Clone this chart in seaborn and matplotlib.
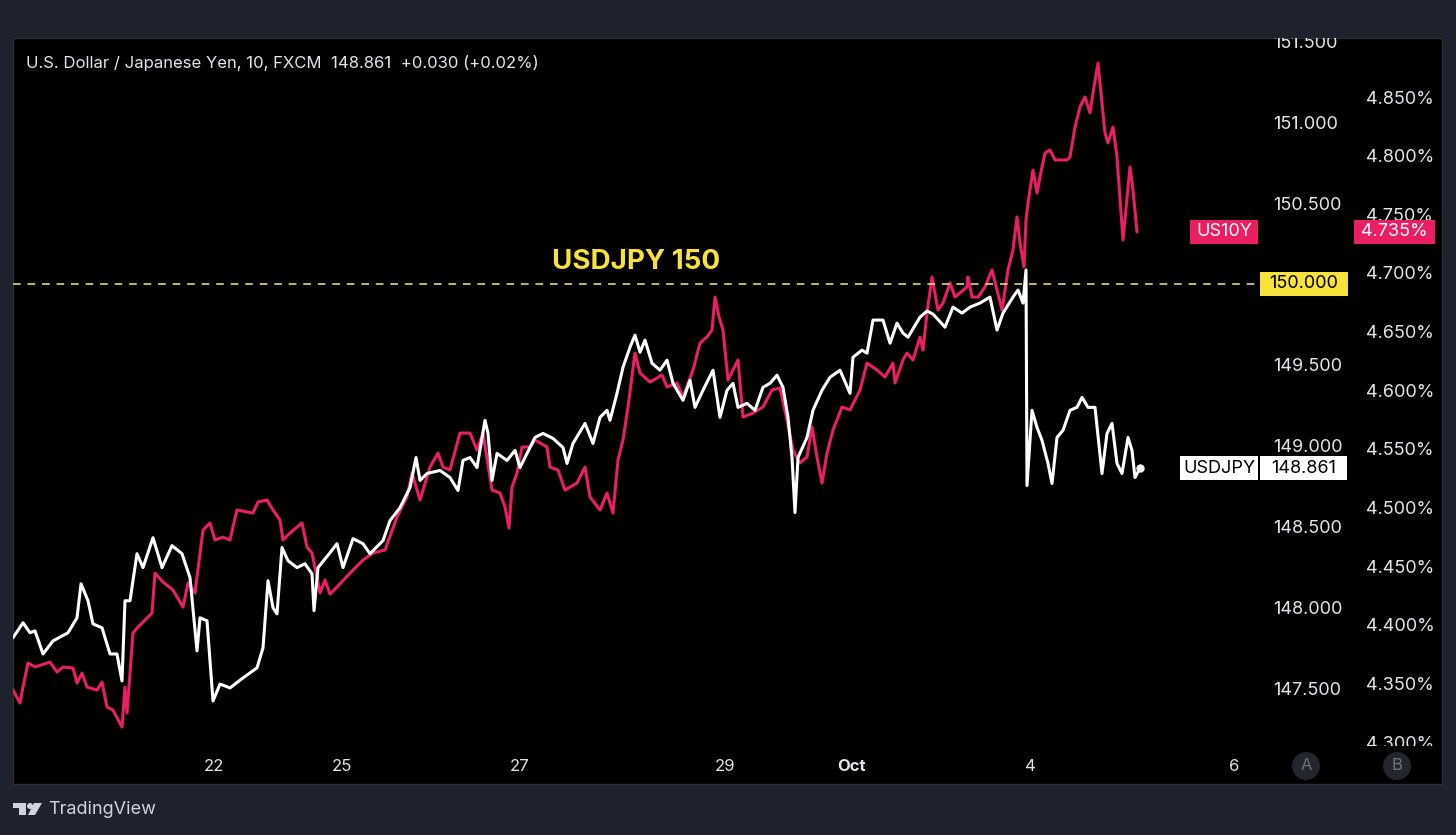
import matplotlib
matplotlib.use("Agg")
import matplotlib.pyplot as plt
from matplotlib.patches import Rectangle, Ellipse, Polygon
from matplotlib.transforms import Bbox, TransformedBbox
import seaborn as sns

# === data: 10-min bar index and closing values ===
usd_bar = [0, 10, 17, 22, 30, 40, 55, 64, 68, 75, 80, 89, 97, 104, 109, 112, 117, 124, 130,
           140, 149, 159, 169, 177, 184, 187, 194, 200, 207, 217, 230, 244, 250, 255, 260,
           264, 269, 275, 284, 292, 299, 301, 305, 317, 324, 330, 340, 350, 357, 370, 377,
           387, 397, 403, 407, 414, 427, 437, 445, 450, 457, 464, 472, 475, 479, 484, 494,
           502, 507, 514, 522, 530, 540, 550, 554, 560, 572, 580, 587, 594, 597, 604, 610,
           617, 622, 627, 632, 639, 647, 654, 660, 670, 677, 682, 690, 700, 707, 714, 720,
           725, 734, 742, 750, 757, 764, 770, 775, 779, 782, 785, 794, 800, 809, 817, 827,
           837, 840, 849, 854, 860, 870, 877, 884, 890, 895, 907, 914, 920, 932, 940, 949,
           957, 967, 977, 984, 990, 1000, 1005, 1010, 1013, 1014, 1019, 1024, 1029, 1035,
           1039, 1044, 1050, 1057, 1064, 1069, 1075, 1082, 1089, 1094, 1099, 1104, 1109,
           1115, 1119, 1122, 1127]
usd_val = [147.812, 147.905, 147.843, 147.855, 147.712, 147.793, 147.843, 147.936, 148.146,
           148.041, 147.898, 147.874, 147.712, 147.712, 147.545, 148.041, 148.041, 148.332,
           148.246, 148.431, 148.246, 148.382, 148.332, 148.184, 147.731, 147.936, 147.917,
           147.421, 147.526, 147.502, 147.564, 147.626, 147.750, 148.165, 147.998, 147.960,
           148.370, 148.289, 148.246, 148.270, 148.208, 147.979, 148.246, 148.338, 148.394,
           148.246, 148.425, 148.394, 148.332, 148.413, 148.537, 148.617, 148.741, 148.927,
           148.785, 148.828, 148.847, 148.803, 148.723, 148.909, 148.927, 148.865, 149.157,
           149.076, 148.785, 148.952, 148.909, 148.971, 148.865, 148.952, 149.051, 149.076,
           149.045, 148.989, 148.890, 149.014, 149.138, 149.014, 149.175, 149.219, 149.157,
           149.324, 149.485, 149.609, 149.684, 149.578, 149.653, 149.510, 149.467, 149.529,
           149.386, 149.281, 149.405, 149.237, 149.343, 149.467, 149.175, 149.343, 149.386,
           149.237, 149.262, 149.219, 149.361, 149.386, 149.436, 149.361, 149.175, 148.927,
           148.586, 148.927, 149.051, 149.219, 149.343, 149.423, 149.467, 149.324, 149.547,
           149.591, 149.572, 149.777, 149.777, 149.634, 149.758, 149.696, 149.671, 149.795,
           149.833, 149.814, 149.733, 149.857, 149.820, 149.857, 149.882, 149.919, 149.715,
           149.820, 149.919, 149.963, 149.882, 150.087, 148.754, 149.219, 149.113, 149.033,
           148.890, 148.766, 149.051, 149.095, 149.219, 149.237, 149.299, 149.237, 149.237,
           148.828, 149.076, 149.138, 148.890, 148.828, 149.051, 148.971, 148.803, 148.861]

y10_bar = [0, 7, 10, 15, 22, 37, 44, 50, 60, 64, 69, 74, 84, 89, 94, 100, 109, 112, 114, 120,
           125, 139, 142, 150, 160, 170, 175, 182, 190, 197, 202, 210, 217, 224, 240, 245,
           254, 260, 267, 270, 277, 289, 294, 299, 304, 307, 312, 317, 324, 337, 350, 360,
           372, 384, 394, 399, 404, 407, 417, 425, 430, 437, 447, 457, 464, 470, 479, 487,
           492, 496, 499, 504, 509, 517, 522, 534, 537, 545, 552, 564, 572, 577, 587, 594,
           600, 605, 610, 615, 622, 627, 637, 649, 654, 664, 670, 680, 687, 694, 699, 702,
           706, 710, 715, 720, 725, 730, 740, 750, 759, 767, 774, 780, 787, 794, 799, 804,
           809, 814, 820, 829, 837, 847, 854, 864, 872, 880, 882, 890, 894, 900, 907, 910,
           914, 919, 925, 930, 937, 942, 954, 955, 959, 965, 972, 979, 984, 989, 995, 1000,
           1004, 1007, 1011, 1013, 1015, 1020, 1024, 1027, 1032, 1037, 1042, 1054, 1057,
           1062, 1067, 1072, 1077, 1080, 1085, 1089, 1092, 1095, 1100, 1104, 1110, 1117,
           1120, 1124]
y10_val = [4.3444, 4.3333, 4.3469, 4.3674, 4.3640, 4.3682, 4.3597, 4.3640, 4.3631, 4.3503,
           4.3588, 4.3469, 4.3444, 4.3512, 4.3299, 4.3273, 4.3128, 4.3469, 4.3247, 4.3930,
           4.3981, 4.4100, 4.4441, 4.4365, 4.4296, 4.4151, 4.4356, 4.4271, 4.4808, 4.4868,
           4.4723, 4.4748, 4.4723, 4.4979, 4.4953, 4.5047, 4.5064, 4.4979, 4.4893, 4.4723,
           4.4783, 4.4868, 4.4663, 4.4612, 4.4407, 4.4271, 4.4382, 4.4262, 4.4322, 4.4441,
           4.4552, 4.4612, 4.4638, 4.4919, 4.5090, 4.5294, 4.5149, 4.5064, 4.5345, 4.5465,
           4.5345, 4.5320, 4.5635, 4.5635, 4.5490, 4.5635, 4.5149, 4.5124, 4.5004, 4.4825,
           4.5175, 4.5294, 4.5516, 4.5516, 4.5576, 4.5516, 4.5345, 4.5320, 4.5149, 4.5209,
           4.5345, 4.5090, 4.4979, 4.5124, 4.4953, 4.5405, 4.5576, 4.5857, 4.6318, 4.6147,
           4.6070, 4.6130, 4.6028, 4.6062, 4.5942, 4.6173, 4.6403, 4.6454, 4.6514, 4.6795,
           4.6625, 4.6514, 4.6087, 4.6173, 4.6258, 4.5772, 4.5806, 4.5857, 4.6002, 4.6019,
           4.5746, 4.5490, 4.5380, 4.5431, 4.5687, 4.5431, 4.5209, 4.5465, 4.5661, 4.5857,
           4.5832, 4.6002, 4.6232, 4.6173, 4.6113, 4.6232, 4.6062, 4.6258, 4.6318, 4.6258,
           4.6454, 4.6343, 4.6659, 4.6966, 4.6684, 4.6744, 4.6915, 4.6795, 4.6881, 4.6966,
           4.6795, 4.6795, 4.6881, 4.7026, 4.6855, 4.6684, 4.7026, 4.7196, 4.7478, 4.7256,
           4.7051, 4.7452, 4.7597, 4.7878, 4.7682, 4.7819, 4.8023, 4.8049, 4.7964, 4.7964,
           4.7989, 4.8245, 4.8416, 4.8501, 4.8365, 4.8535, 4.8791, 4.8450, 4.8194, 4.8109,
           4.8245, 4.7989, 4.7281, 4.7904, 4.7708, 4.7350]

usd_ticks = [147.5, 148.0, 148.5, 149.0, 149.5, 150.0, 150.5, 151.0, 151.5]
y10_ticks = [4.30, 4.35, 4.40, 4.45, 4.50, 4.55, 4.60, 4.65, 4.70, 4.75, 4.80, 4.85]
date_pos = [201, 329, 507, 712, 839, 1017, 1221]
date_lbl = ["22", "25", "27", "29", "Oct", "4", "6"]
usd_last = 148.861
y10_last = 4.735
level = 150.0

# === style ===
BG = "#1e222d"
PINK = "#e91e63"
YELLOW = "#f7e33b"
TXT = "#e3e5ea"

sns.set_theme(style="dark", rc={"axes.facecolor": "black", "figure.facecolor": BG})
plt.rcParams["font.family"] = ["Inter", "DejaVu Sans"]

W, H = 1456, 835
fig = plt.figure(figsize=(W / 100, H / 100), dpi=100, facecolor=BG)


def fx(px):
    return px / W


def fy(py):
    return 1 - py / H


# black panel
fig.patches.append(Rectangle((fx(13), fy(784)), fx(1442) - fx(13), fy(38) - fy(784),
                             transform=fig.transFigure, fc="black", ec="#2a2e39", lw=1, zorder=0))

ax = fig.add_axes([fx(13), fy(747), fx(1265) - fx(13), fy(38) - fy(747)])
ax2 = ax.twinx()
ax2.set_zorder(1)
ax.set_zorder(2)
ax.patch.set_visible(False)
ax2.patch.set_visible(False)

ax.set_xlim(0, 1252)
usd_lim = (150 - (747 - 284) / 161.7, 150 + (284 - 38) / 161.7)
y10_lim = (4.70 - (747 - 273) / 1172.7, 4.70 + (273 - 38) / 1172.7)
ax.set_ylim(*usd_lim)
ax2.set_ylim(*y10_lim)

sns.lineplot(x=y10_bar, y=y10_val, ax=ax2, color=PINK, lw=2.2, sort=False, estimator=None)
sns.lineplot(x=usd_bar, y=usd_val, ax=ax, color="white", lw=2.2, sort=False, estimator=None)
ax.plot([usd_bar[-1]], [usd_val[-1]], "o", color="white", ms=5, zorder=4)

ax.axhline(level, color="#f3e88f", lw=1.1, dashes=(5, 4.5), zorder=1)
ax.annotate("USDJPY 150", xy=(623, level), xytext=(0, 16), textcoords="offset points",
            ha="center", va="center", color=YELLOW, fontsize=20, fontweight="bold")

for a in (ax, ax2):
    for s in a.spines.values():
        s.set_visible(False)
    a.grid(False)
    a.set_xlabel("")
    a.set_ylabel("")

ax.set_xticks(date_pos, date_lbl)
ax.tick_params(axis="x", length=0, pad=8.5, labelsize=12, colors=TXT)
ax.get_xticklabels()[date_lbl.index("Oct")].set_fontweight("bold")

# the 150 level gets its own yellow badge instead of a plain label
ax.set_yticks(usd_ticks, ["" if v == level else f"{v:.3f}" for v in usd_ticks])
ax.tick_params(axis="y", left=False, right=False, labelleft=False, labelright=True,
               length=0, pad=5.8, labelsize=13, colors=TXT)
ax2.set_yticks(y10_ticks, [f"{v:.3f}%" for v in y10_ticks])
ax2.tick_params(axis="y", length=0, pad=72.5, labelsize=13, colors=TXT)

clip = TransformedBbox(Bbox([[0, fy(746)], [1, fy(38)]]), fig.transFigure)
for lab in ax.yaxis.get_ticklabels() + ax2.yaxis.get_ticklabels():
    lab.set_clip_box(clip)
    lab.set_clip_on(True)


def badge(a, lim, x0, x1, yval, fc, text, tc):
    h = 24 * (lim[1] - lim[0]) / 709
    tr = a.get_yaxis_transform()
    a.add_patch(Rectangle(((x0 - 13) / 1252, yval - h / 2), (x1 - x0) / 1252, h,
                          transform=tr, fc=fc, ec="none", clip_on=False, zorder=6))
    a.text(((x0 + x1) / 2 - 13) / 1252, yval, text, transform=tr, ha="center", va="center",
           color=tc, fontsize=13, clip_on=False, zorder=7)


badge(ax2, y10_lim, 1190, 1258, y10_last, PINK, "US10Y", "white")
badge(ax2, y10_lim, 1354, 1435, y10_last, PINK, f"{y10_last:.3f}%", "white")
badge(ax, usd_lim, 1260, 1348, level, YELLOW, f"{level:.3f}", "black")
badge(ax, usd_lim, 1180, 1258, usd_last, "white", "USDJPY", "black")
badge(ax, usd_lim, 1260, 1347, usd_last, "white", f"{usd_last:.3f}", "black")

fig.text(fx(26), fy(63), "U.S. Dollar / Japanese Yen, 10, FXCM  148.861  +0.030 (+0.02%)",
         ha="left", va="center", color=TXT, fontsize=12)

# A / B buttons
for cx, letter in [(1306, "A"), (1397, "B")]:
    fig.patches.append(Ellipse((fx(cx), fy(766)), 28 / W, 28 / H, transform=fig.transFigure,
                               fc="#24262d", ec="none", zorder=1))
    fig.text(fx(cx), fy(766), letter, ha="center", va="center", color="#6f727c", fontsize=12)

# TradingView logo
logo = "#d1d4dc"
for pts in ([(13, 803), (26, 803), (26, 815), (19, 815), (19, 808), (13, 808)],
            [(34, 803), (42, 803), (35, 815), (28, 815)]):
    fig.patches.append(Polygon([(fx(x), fy(y)) for x, y in pts], closed=True,
                               transform=fig.transFigure, fc=logo, ec="none", zorder=2))
fig.patches.append(Ellipse((fx(30), fy(806)), 6 / W, 6 / H, transform=fig.transFigure,
                           fc=logo, ec="none", zorder=2))
fig.text(fx(48), fy(809), "TradingView", ha="left", va="center", color=logo, fontsize=13)

fig.savefig("out.png", dpi=100, facecolor=BG)
